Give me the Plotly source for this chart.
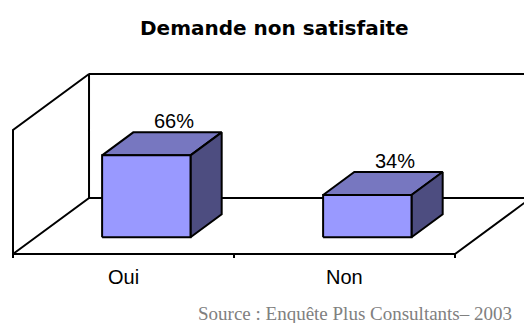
import plotly.graph_objects as go

# ---- data -------------------------------------------------------------
categories = ["Oui", "Non"]
values = [66, 34]                      # percent
value_labels = ["66%", "34%"]
axis_max = 100
title_text = "Demande non satisfaite"
source_text = "Source : Enquête Plus Consultants– 2003"

# ---- layout / projection settings --------------------------------------
W, H = 524, 323
PX_PER_CAT = 221.0      # pixels per category unit
PX_PER_PCT = 1.24       # pixels per percent
ORIGIN_PX = (13, 254)   # pixel position of the front-left floor corner
DEPTH_X = 0.344         # category units per unit of depth
DEPTH_Y = 45.2          # percent units per unit of depth
BAR_HALF = 0.2          # half bar width (category units)
BAR_D0, BAR_D1 = 0.30, 0.71   # bar front / back depth
TICK_LEN = 3.2          # percent units

FRONT = "#9999FF"
TOP = "#7777C0"
SIDE = "#4D4D80"
EDGE = "black"


def proj(x, y, d):
    """Oblique projection of (category x, value y, depth d)."""
    return x + d * DEPTH_X, y + d * DEPTH_Y


def poly(points, fill):
    xs, ys = zip(*[proj(*p) for p in points])
    xs = list(xs) + [xs[0]]
    ys = list(ys) + [ys[0]]
    return go.Scatter(x=xs, y=ys, mode="lines", fill="toself" if fill else None,
                      fillcolor=fill, line=dict(color=EDGE, width=2),
                      hoverinfo="skip", showlegend=False)


def seg(points, width=2):
    xs, ys = zip(*[proj(*p) for p in points])
    return go.Scatter(x=list(xs), y=list(ys), mode="lines",
                      line=dict(color=EDGE, width=width),
                      hoverinfo="skip", showlegend=False)


fig = go.Figure()
n = len(categories)

# walls and floor
fig.add_trace(seg([(0, 0, 0), (0, axis_max, 0), (0, axis_max, 1), (0, 0, 1), (0, 0, 0)]))
fig.add_trace(seg([(0, axis_max, 1), (n, axis_max, 1)]))
fig.add_trace(seg([(0, 0, 1), (n, 0, 1), (n, 0, 0), (0, 0, 0)]))
# category ticks
for i in range(n + 1):
    fig.add_trace(seg([(i, 0, 0), (i, -TICK_LEN, 0)]))

# 3D bars
for i, v in enumerate(values):
    x0 = i + 0.5 - BAR_HALF
    x1 = i + 0.5 + BAR_HALF
    # top face
    fig.add_trace(poly([(x0, v, BAR_D0), (x1, v, BAR_D0), (x1, v, BAR_D1), (x0, v, BAR_D1)], TOP))
    # side face
    fig.add_trace(poly([(x1, 0, BAR_D0), (x1, 0, BAR_D1), (x1, v, BAR_D1), (x1, v, BAR_D0)], SIDE))
    # front face
    fig.add_trace(poly([(x0, 0, BAR_D0), (x1, 0, BAR_D0), (x1, v, BAR_D0), (x0, v, BAR_D0)], FRONT))

annotations = []
label_font = dict(family="Liberation Sans, Arial, sans-serif", size=20, color="black")
for i, (v, lab) in enumerate(zip(values, value_labels)):
    lx, ly = proj(i + 0.5, v, BAR_D1)
    annotations.append(dict(x=lx, y=ly, text=lab, showarrow=False, xanchor="center",
                            yanchor="bottom", xshift=-3, yshift=-2, font=label_font))
    cx, cy = proj(i + 0.5, 0, 0)
    annotations.append(dict(x=cx, y=cy, text=categories[i], showarrow=False,
                            xanchor="center", yanchor="middle", yshift=-23, font=label_font))

annotations.append(dict(xref="paper", yref="paper", x=274 / W, y=1 - 28 / H,
                        text="<b>" + title_text + "</b>", showarrow=False,
                        xanchor="center", yanchor="middle",
                        font=dict(family="DejaVu Sans, sans-serif", size=20, color="black")))
annotations.append(dict(xref="paper", yref="paper", x=514 / W, y=1 - 313 / H,
                        text=source_text, showarrow=False,
                        xanchor="right", yanchor="middle",
                        font=dict(family="Liberation Serif, Times New Roman, serif",
                                  size=19, color="#808080")))

ox, oy = ORIGIN_PX
fig.update_layout(
    width=W, height=H,
    margin=dict(l=0, r=0, t=0, b=0),
    paper_bgcolor="white", plot_bgcolor="white",
    xaxis=dict(range=[-ox / PX_PER_CAT, (W - ox) / PX_PER_CAT], visible=False, fixedrange=True),
    yaxis=dict(range=[-(H - oy) / PX_PER_PCT, oy / PX_PER_PCT], visible=False, fixedrange=True),
    annotations=annotations,
    showlegend=False,
)

fig.write_html("out.html")
